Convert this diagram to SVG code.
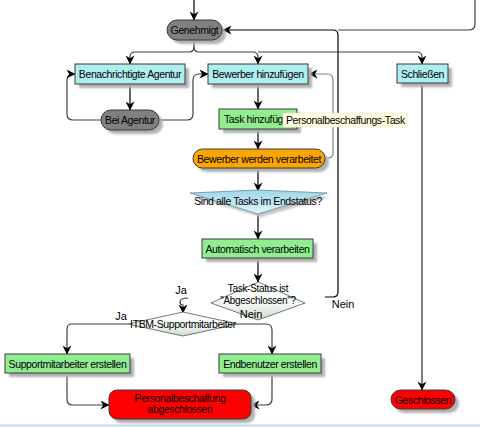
<svg xmlns="http://www.w3.org/2000/svg" width="480" height="427" viewBox="0 0 480 427">
<defs>
<style>
text{font-family:"Liberation Sans",Arial,sans-serif;font-size:10.5px;letter-spacing:-0.4px;fill:#000;text-anchor:middle}
.lbl{font-size:11px;letter-spacing:0}
.sm{font-size:10px;letter-spacing:-0.3px}
.box{stroke:#3a3a3a;stroke-width:1}
.cyan{fill:#afeeee}
.green{fill:#90ee90}
.grey{fill:#808080}
.orange{fill:#ffa500}
.red{fill:#ff0000}
.sh{fill:#b0b0b0;filter:url(#blur)}
.c{fill:none;stroke:#404040;stroke-width:1.2}
.k{stroke:#000}
.g{stroke:#808080}
</style>
<filter id="blur" x="-20%" y="-20%" width="140%" height="140%"><feGaussianBlur stdDeviation="0.9"/></filter>
<clipPath id="clipTask"><rect x="219" y="109" width="64" height="20"/></clipPath>
<marker id="ar" viewBox="0 0 10 10" refX="9.5" refY="5" markerWidth="9" markerHeight="9" markerUnits="userSpaceOnUse" orient="auto">
<path d="M0,0 L10,5 L0,10 L3,5 z" fill="#000"/>
</marker>
<linearGradient id="gc" x1="0" y1="0" x2="0" y2="1"><stop offset="0" stop-color="#9fd6ea"/><stop offset="1" stop-color="#e2f5fb"/></linearGradient>
<linearGradient id="gw" x1="0" y1="0" x2="0" y2="1"><stop offset="0" stop-color="#ffffff"/><stop offset="0.55" stop-color="#f4fbf4"/><stop offset="1" stop-color="#cfd8cf"/></linearGradient>
</defs>
<rect x="0" y="0" width="480" height="427" fill="#fff"/>
<line x1="0" y1="425.5" x2="480" y2="425.5" stroke="#c8d8ee" stroke-width="2"/>

<g id="connectors">
<path class="c k" d="M194,0 V20" marker-end="url(#ar)"/>
<path class="c" d="M475,0 V24 Q475,30 469,30 H338"/>
<path class="c k" d="M325,297 H333 Q338,297 338,292 V35 Q338,30 333,30 H223" marker-end="url(#ar)"/>
<path class="c" d="M194,40 V47 Q194,52 189,52 H135 Q130,52 130,57 V64" marker-end="url(#ar)"/>
<path class="c" d="M194,47 Q194,52 199,52 H253 Q258,52 258,57 V64" marker-end="url(#ar)"/>
<path class="c" d="M258,52 H417 Q422,52 422,57 V64" marker-end="url(#ar)"/>
<path class="c k" d="M130,84 V110" marker-end="url(#ar)"/>
<path class="c" d="M101,120 H73 Q67,120 67,114 V80 Q67,74 73,74 H75" marker-end="url(#ar)"/>
<path class="c" d="M159,120 H187 Q193,120 193,114 V80 Q193,74 199,74 H208" marker-end="url(#ar)"/>
<path class="c k" d="M258,84 V109" marker-end="url(#ar)"/>
<path class="c k" d="M258,129 V149" marker-end="url(#ar)"/>
<path class="c g" d="M325,158 H328 Q333,158 333,153 V80 Q333,74 327,74 H309" marker-end="url(#ar)"/>
<path class="c k" d="M258,168 V191" marker-end="url(#ar)"/>
<path class="c k" d="M258,214 V239" marker-end="url(#ar)"/>
<path class="c k" d="M258,258 V282" marker-end="url(#ar)"/>
<path class="c" d="M188,298 Q180,298 180,302 Q180,305 183,305 V313" marker-end="url(#ar)"/>
<path class="c" d="M128,324 H72 Q67,324 67,329 V354" marker-end="url(#ar)"/>
<path class="c" d="M238,324 H266 Q272,324 272,330 V354" marker-end="url(#ar)"/>
<path class="c" d="M67,373 V399 Q67,405 73,405 H109" marker-end="url(#ar)"/>
<path class="c" d="M272,373 V399 Q272,405 266,405 H251" marker-end="url(#ar)"/>
<path class="c g" style="stroke-width:2" d="M422,83 V390" marker-end="url(#ar)"/>
</g>

<g id="n-genehmigt">
<rect class="sh" x="171" y="24" width="55" height="20" rx="10"/>
<rect class="box grey" x="167" y="20" width="55" height="20" rx="10"/>
<text x="194.5" y="34">Genehmigt</text>
</g>
<g id="n-benachrichtigte">
<rect class="sh" x="79" y="68" width="110" height="20"/>
<rect class="box cyan" x="75" y="64" width="110" height="20"/>
<text x="130" y="78">Benachrichtigte Agentur</text>
</g>
<g id="n-beiagentur">
<rect class="sh" x="105" y="114" width="58" height="20" rx="10"/>
<rect class="box grey" x="101" y="110" width="58" height="20" rx="10"/>
<text x="130" y="124">Bei Agentur</text>
</g>
<g id="n-bewerberhinzu">
<rect class="sh" x="212" y="68" width="100" height="20"/>
<rect class="box cyan" x="208" y="64" width="100" height="20"/>
<text x="258" y="78">Bewerber hinzufügen</text>
</g>
<g id="n-schliessen">
<rect class="sh" x="401" y="68" width="51" height="19"/>
<rect class="box cyan" x="397" y="64" width="51" height="19"/>
<text x="422.5" y="77.5">Schließen</text>
</g>
<g id="n-task">
<rect class="sh" x="223" y="113" width="78" height="20"/>
<rect class="box green" x="219" y="109" width="78" height="20"/>
<text x="224" y="123" style="text-anchor:start" clip-path="url(#clipTask)">Task hinzufüg</text>
</g>
<g id="n-tooltip">
<rect x="283" y="113" width="124" height="14" fill="#ffffe1" stroke="#e4e4c8" stroke-width="0.6"/>
<text x="286" y="124" style="text-anchor:start">Personalbeschaffungs-Task</text>
</g>
<g id="n-verarbeitet">
<rect class="sh" x="197" y="153" width="132" height="19" rx="9.5"/>
<rect class="box orange" x="193" y="149" width="132" height="19" rx="9.5"/>
<text x="259" y="162.5">Bewerber werden verarbeitet</text>
</g>
<g id="n-sindalle">
<polygon points="261,194 330,197 261,217 193,197" fill="#c4c4c4" filter="url(#blur)"/>
<polygon points="258,190 327,193 258,214 190,193" fill="url(#gc)" stroke="#5f8e9e" stroke-width="0.8"/>
<text x="258" y="205">Sind alle Tasks im Endstatus?</text>
</g>
<g id="n-automatisch">
<rect class="sh" x="206" y="243" width="111" height="19"/>
<rect class="box green" x="202" y="239" width="111" height="19"/>
<text x="257.5" y="252.5">Automatisch verarbeiten</text>
</g>
<g id="n-taskstatus">
<polygon points="258,282 305,303 258,320 211,303" fill="url(#gw)" stroke="#555" stroke-width="0.8"/>
<text class="sm" x="258" y="292">Task-Status ist</text>
<text class="sm" x="258" y="304">"Abgeschlossen"?</text>
</g>
<g id="n-itbm">
<polygon points="183,312 238,324 183,336 128,324" fill="url(#gw)" stroke="#555" stroke-width="0.8"/>
<text x="183" y="327.5">ITBM-Supportmitarbeiter</text>
</g>
<g id="n-support">
<rect class="sh" x="9" y="358" width="125" height="19"/>
<rect class="box green" x="5" y="354" width="125" height="19"/>
<text x="67.5" y="367.5">Supportmitarbeiter erstellen</text>
</g>
<g id="n-endbenutzer">
<rect class="sh" x="223" y="358" width="102" height="19"/>
<rect class="box green" x="219" y="354" width="102" height="19"/>
<text x="270" y="367.5">Endbenutzer erstellen</text>
</g>
<g id="n-personal">
<rect class="sh" x="113" y="394" width="142" height="29" rx="8"/>
<rect class="box red" x="109" y="390" width="142" height="29" rx="8"/>
<text x="180" y="402">Personalbeschaffung</text>
<text x="180" y="413">abgeschlossen</text>
</g>
<g id="n-geschlossen">
<rect class="sh" x="395" y="394" width="64" height="19" rx="9.5"/>
<rect class="box red" x="391" y="390" width="64" height="19" rx="9.5"/>
<text x="423" y="403.5">Geschlossen</text>
</g>

<g id="connector-labels">
<text class="lbl" x="181" y="294">Ja</text>
<text class="lbl" x="121" y="320">Ja</text>
<text class="lbl" x="251" y="318">Nein</text>
<text class="lbl" x="343" y="308">Nein</text>
</g>
</svg>
